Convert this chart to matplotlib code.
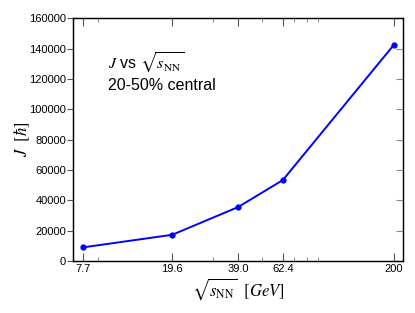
import matplotlib
matplotlib.use("Agg")
from matplotlib import pyplot as plt

# energias e momento angular
energias = [7.7, 19.6, 39.0, 62.4, 200]
rotulos = ["7.7", "19.6", "39.0", "62.4", "200"]
momentoJ = [9000, 17300, 35500, 53300, 142500]
minorTicks = [9, 30, 50, 70, 80, 90]
yTicks = [0, 20000, 40000, 60000, 80000, 100000, 120000, 140000, 160000]

plt.rcParams['font.family'] = ['Liberation Sans', 'DejaVu Sans']
plt.rcParams['mathtext.fontset'] = 'stix'

fig = plt.figure(figsize=(4.15, 3.13), dpi=100)
ax = fig.add_axes([0.176, 0.166, 0.795, 0.776])

ax.plot(energias, momentoJ, color='#0000ff', linewidth=1.4, marker='o', markersize=3.5)

ax.set_xscale('log')
ax.set_xlim(6.93, 219.8)
ax.set_ylim(0, 160000)
ax.set_xticks(energias)
ax.set_xticklabels(rotulos)
ax.set_xticks(minorTicks, minor=True)
ax.xaxis.set_minor_formatter(matplotlib.ticker.NullFormatter())
ax.set_yticks(yTicks)
ax.set_yticklabels([str(v) for v in yTicks])

ax.tick_params(axis='x', which='major', direction='in', top=True, length=6, width=0.8, color='#555555', labelsize=8, pad=2)
ax.tick_params(axis='x', which='minor', direction='in', top=True, length=3, width=0.6, color='#777777')
ax.tick_params(axis='y', which='major', direction='out', right=False, length=4, width=0.8, color='#555555', labelsize=8, pad=1)

# ticks para dentro no lado direito
ax2 = ax.twinx()
ax2.set_ylim(0, 160000)
ax2.set_yticks(yTicks)
ax2.tick_params(axis='y', direction='in', length=5, width=0.8, color='#888888', labelright=False)

for a in (ax, ax2):
    for s in a.spines.values():
        s.set_linewidth(0.9)

ax.set_xlabel(r'$\sqrt{s_{\mathrm{NN}}}\ \ [GeV]$', fontsize=12, labelpad=2)
ax.set_ylabel(r'$J\ \ [\hbar]$', fontsize=12)
ax.yaxis.set_label_coords(-0.125, 0.5)

ax.text(0.105, 0.79, r'$J$ vs $\sqrt{s_{\mathrm{NN}}}$', transform=ax.transAxes, fontsize=11.5)
ax.text(0.105, 0.705, '20-50% central', transform=ax.transAxes, fontsize=11.5)

fig.savefig('out.png', dpi=100)
